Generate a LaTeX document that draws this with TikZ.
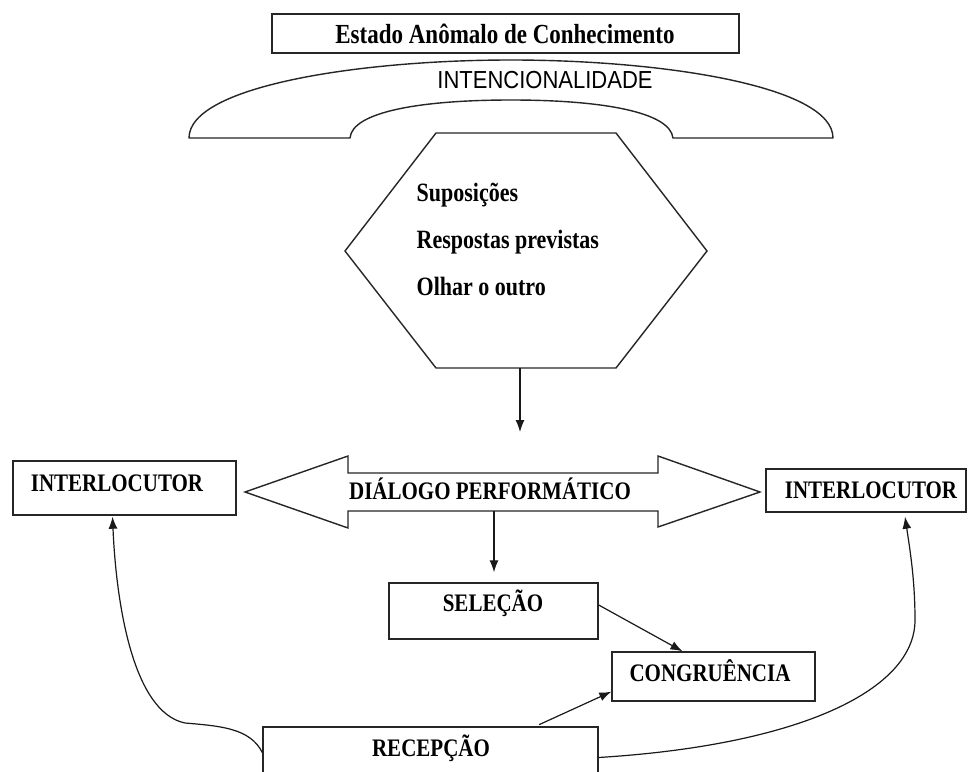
\documentclass[tikz,border=0pt]{standalone}
\usepackage{graphicx}
\usepackage{fontspec}
\setmainfont{Liberation Serif}
\newfontfamily\arialf{Liberation Sans}
\usetikzlibrary{arrows.meta}
\newcommand{\vst}[1]{\scalebox{1}[1.2]{#1}}
\begin{document}
\begin{tikzpicture}[x=1pt,y=-1pt,line width=1.4pt,
  box/.style={draw=black!85,rectangle,inner sep=0pt},
  txt/.style={font=\bfseries\fontsize{21}{25}\selectfont,inner sep=0pt,text height=17pt,text depth=0pt,anchor=center},
  hextxt/.style={font=\bfseries\fontsize{22}{26}\selectfont,inner sep=0pt,anchor=base west},
  arr/.style={draw=black!90,line width=1.2pt,-{Latex[length=12pt,width=9pt]}},
  shp/.style={draw=black!85,line width=1.4pt}]
\useasboundingbox (0,0) rectangle (969,771);
\clip (0,0) rectangle (969,771);
\fill[white] (0,0) rectangle (969,771);

% top box
\node[box,line width=1.8pt,minimum width=467pt,minimum height=39pt] (eac) at (505.5,33.5) {};
\node[txt,font=\bfseries\fontsize{23}{27}\selectfont,text height=18pt] (eact) at (505,34) {\vst{Estado Anômalo de Conhecimento}};

% handset shape
\draw[shp,line join=round] (189,138) .. controls (189,86) and (360,60) .. (511,60)
  .. controls (662,60) and (833,86) .. (833,138) -- (673,138)
  .. controls (670,112) and (602,100) .. (511,100)
  .. controls (420,100) and (352,112) .. (350,138) -- cycle;
\node[inner sep=0pt,font=\arialf\fontsize{22}{26}\selectfont] (intc) at (545,80) {\scalebox{1}[1.12]{INTENCIONALIDADE}};

% hexagon
\draw[shp] (436,133) -- (616,133) -- (707,251) -- (616,368) -- (436,368) -- (345,251) -- cycle;
\coordinate (hexb) at (520,368);
\coordinate (hexend) at (520,432);
\node[hextxt] (s1) at (416,201) {\vst{Suposições}};
\node[hextxt] (s2) at (416,248) {\vst{Respostas previstas}};
\node[hextxt] (s3) at (416,295) {\vst{Olhar o outro}};
\draw[arr] (hexb) -- (hexend);

% double arrow
\draw[shp] (245,492) -- (348,456) -- (348,473) -- (658,473) -- (658,456) -- (760,492)
  -- (658,527) -- (658,511) -- (348,511) -- (348,528) -- cycle;
\node[txt] (dlg) at (490,491) {\vst{DIÁLOGO PERFORMÁTICO}};
\coordinate (dlgb) at (494,511);

% interlocutors
\node[box,minimum width=223pt,minimum height=54pt] (int1) at (124.5,488) {};
\node[txt] (int1t) at (117,483) {\vst{INTERLOCUTOR}};
\node[box,minimum width=200pt,minimum height=43pt] (int2) at (866,490.5) {};
\node[txt] (int2t) at (871,490) {\vst{INTERLOCUTOR}};

% selecao, congruencia, recepcao
\node[box,minimum width=209pt,minimum height=56pt] (sel) at (493.5,611) {};
\node[txt] (selt) at (493,603) {\vst{SELEÇÃO}};
\node[box,minimum width=203pt,minimum height=49pt] (cong) at (713.5,676.5) {};
\node[txt] (congt) at (710,673) {\vst{CONGRUÊNCIA}};
\node[box,minimum width=335pt,minimum height=73pt] (rec) at (430.5,763.5) {};
\node[txt] (rect) at (431,748) {\vst{RECEPÇÃO}};

% connectors
\draw[arr] (dlgb) -- ([yshift=10pt]sel.north -| dlgb);
\draw[arr] ([yshift=6pt]sel.east) -- ([xshift=-31pt]cong.north);
\draw[arr,shorten <=4pt] ([xshift=105pt]rec.north) -- ([yshift=10pt]cong.south west);
\draw[arr] ([yshift=11pt]rec.west) .. controls (250,728) and (220,726) .. (185,723)
  .. controls (132,712) and (116,600) .. ([xshift=-12pt,yshift=-1pt]int1.south);
\draw[arr] ([yshift=6pt]rec.east) .. controls (800,745) and (915,690) .. (915,620)
  .. controls (915,580) and (910,550) .. ([xshift=39pt,yshift=-4pt]int2.south);
\end{tikzpicture}
\end{document}
